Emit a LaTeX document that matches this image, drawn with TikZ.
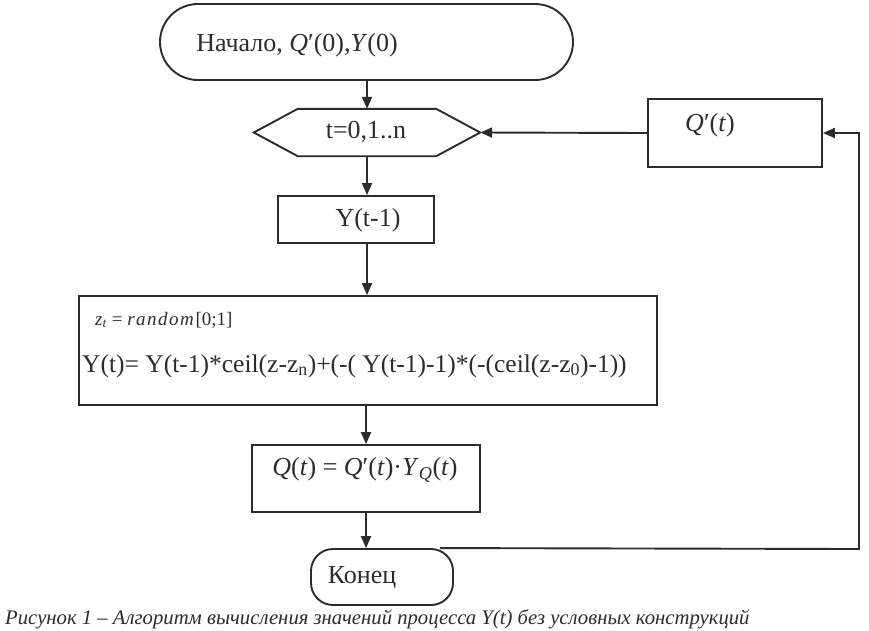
\documentclass[tikz,border=0pt]{standalone}
\usepackage{fontspec}
\setmainfont{Liberation Serif}
\usetikzlibrary{arrows.meta,calc}
\definecolor{lc}{RGB}{45,42,48}
\begin{document}
\begin{tikzpicture}[x=1pt,y=-1pt,
 box/.style={draw=lc, line width=1.9pt, inner sep=0pt},
 arr/.style={draw=lc, line width=1.9pt, -{Triangle[length=12pt,width=10pt]}},
 lbl/.style={inner sep=0pt, text=lc, font=\fontsize{26}{30}\selectfont},
 sml/.style={inner sep=0pt, text=lc, font=\fontsize{19}{22}\selectfont}]
\useasboundingbox (0,0) rectangle (869,630);
% shapes
\node[box, rounded corners=38pt, minimum width=413pt, minimum height=76pt] (start) at (366.5,42) {};
\node[inner sep=0pt, minimum width=226pt, minimum height=47pt] (hex) at (367,132.5) {};
\draw[draw=lc, line width=1.9pt] (hex.west) -- ([xshift=44pt]hex.north west) -- ([xshift=-44pt]hex.north east) -- (hex.east) -- ([xshift=-44pt]hex.south east) -- ([xshift=44pt]hex.south west) -- cycle;
\node[box, minimum width=174pt, minimum height=68pt] (qp) at (735,133) {};
\node[box, minimum width=156pt, minimum height=47pt] (yb) at (356,219.5) {};
\node[box, minimum width=578pt, minimum height=109pt] (big) at (368,350.5) {};
\node[box, minimum width=228pt, minimum height=67pt] (qt) at (366,478.5) {};
\node[box, rounded corners=22pt, minimum width=142pt, minimum height=56pt] (end) at (382,577) {};
% texts
\node[lbl] (tstart) at (297,45) {Начало, \textit{Q}′(0),\textit{Y}(0)};
\node[lbl] (thex) at (366,132) {t=0,1..n};
\node[lbl] (tqp) at (710,125) {\textit{Q}′(\textit{t})};
\node[lbl] (tyb) at (368,220) {Y(t-1)};
\node[sml, anchor=west] (tz) at (95,320) {\textit{z}\textsubscript{\textit{t}} = \textit{\addfontfeatures{LetterSpace=8}random}[0;1]};
\node[lbl, anchor=west, font=\fontsize{25.5}{30}\selectfont] (tf) at (82,366) {Y(t)= Y(t-1)*ceil(z-z\textsubscript{n})+(-( Y(t-1)-1)*(-(ceil(z-z\textsubscript{0})-1))};
\node[lbl] (tqt) at (365,470) {\textit{Q}(\textit{t}) = \textit{Q}′(\textit{t})·\textit{Y}\textsubscript{\textit{Q}}(\textit{t})};
\node[lbl] (tend) at (362,577) {Конец};
\node[inner sep=0pt, text=lc, anchor=west, font=\fontsize{20.7}{25}\selectfont\itshape] (cap) at (5,619) {Рисунок 1 – Алгоритм вычисления значений процесса Y(t) без условных конструкций};
% connectors
\draw[arr] (start.south -| hex.north) -- (hex.north);
\draw[arr] (hex.south) -- (hex.south |- yb.north);
\draw[arr] (hex.south |- yb.south) -- (hex.south |- big.north);
\draw[arr] (qt.north |- big.south) -- (qt.north);
\draw[arr] (qt.south) -- (qt.south |- end.north);
\draw[arr] (qp.west) -- (hex.east);
\coordinate (c1) at (859,549);
\coordinate (c2) at (859,133);
\draw[arr] ([xshift=-14pt]end.north east) -- (c1) -- (c2) -- (qp.east);
\end{tikzpicture}
\end{document}
